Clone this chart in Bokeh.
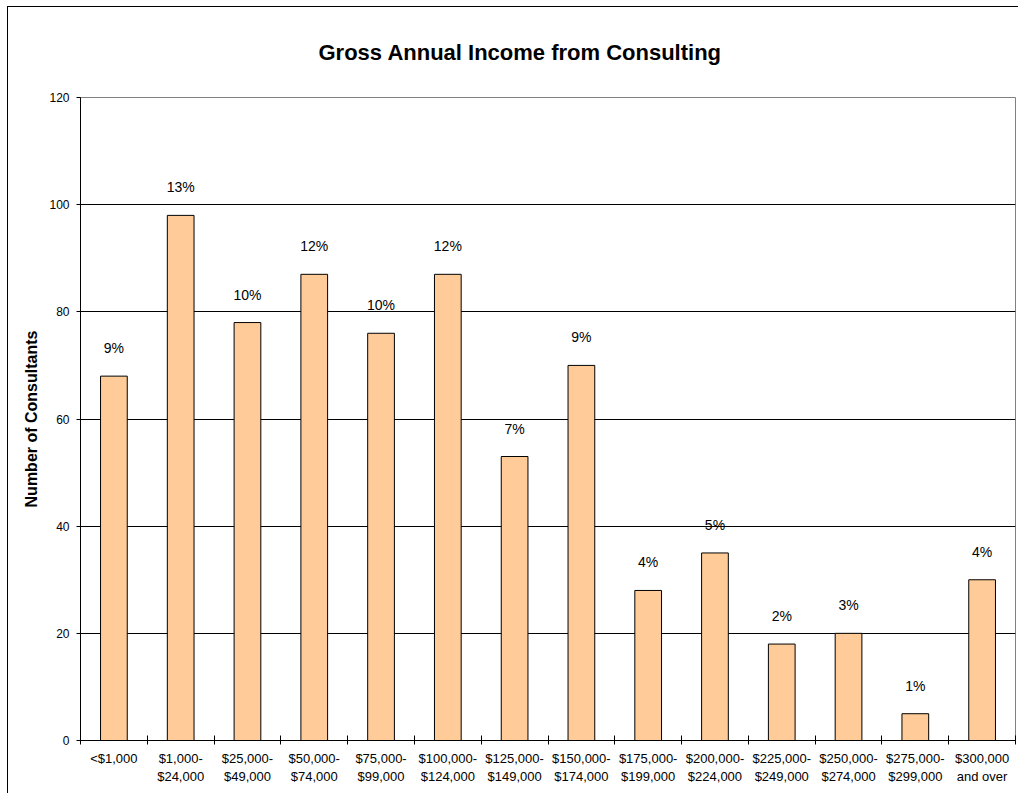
from bokeh.plotting import figure
from bokeh.models import Range1d, FixedTicker
from bokeh.core.properties import value
from bokeh.embed import file_html
from bokeh.resources import INLINE

categories = ["<$1,000", "$1,000-\n$24,000", "$25,000-\n$49,000", "$50,000-\n$74,000",
              "$75,000-\n$99,000", "$100,000-\n$124,000", "$125,000-\n$149,000",
              "$150,000-\n$174,000", "$175,000-\n$199,000", "$200,000-\n$224,000",
              "$225,000-\n$249,000", "$250,000-\n$274,000", "$275,000-\n$299,000",
              "$300,000\nand over"]
counts = [68, 98, 78, 87, 76, 87, 53, 70, 28, 35, 18, 20, 5, 30]
pct_labels = ["9%", "13%", "10%", "12%", "10%", "12%", "7%", "9%", "4%", "5%", "2%", "3%", "1%", "4%"]
y_ticks = [0, 20, 40, 60, 80, 100, 120]

n = len(categories)
centers = [i + 0.5 for i in range(n)]
bounds = list(range(n + 1))

FONT = "Liberation Sans"

p = figure(width=1011, height=787, output_backend="svg", toolbar_location=None,
           x_range=Range1d(0, n), y_range=Range1d(0, 120),
           min_border_left=72, min_border_right=4, min_border_top=90, min_border_bottom=54,
           title="Gross Annual Income from Consulting")
p.styles = {"margin-left": "7px", "margin-top": "6px",
            "border-left": "1px solid black", "border-top": "1px solid black"}

p.title.text_font = FONT
p.title.text_font_size = "22px"
p.title.text_font_style = "bold"
p.title.text_color = "black"
p.title.align = "left"
p.title.offset = 238
p.title.vertical_align = "top"
p.title.standoff = 61

p.outline_line_color = "#808080"
p.outline_line_width = 1
p.background_fill_color = "white"
p.border_fill_color = "white"

p.vbar(x=centers, top=counts, width=0.4, bottom=0,
       fill_color="#FFCC99", line_color="black", line_width=1)

p.text(x=centers, y=counts, text=pct_labels, y_offset=-28,
       text_align="center", text_baseline="middle",
       text_font=value(FONT), text_font_size="14px", text_color="black")

# x axis
p.xaxis.ticker = FixedTicker(ticks=centers, minor_ticks=bounds)
p.xaxis.major_label_overrides = {c: lab for c, lab in zip(centers, categories)}
p.xaxis.major_tick_in = 0
p.xaxis.major_tick_out = 0
p.xaxis.minor_tick_in = 5
p.xaxis.minor_tick_out = 4
p.xaxis.minor_tick_line_color = "black"
p.xaxis.axis_line_color = "black"
p.xaxis.major_label_text_font = FONT
p.xaxis.major_label_text_font_size = "13px"
p.xaxis.major_label_text_color = "black"
p.xaxis.major_label_standoff = 6
p.xgrid.grid_line_color = None

# y axis
p.yaxis.ticker = FixedTicker(ticks=y_ticks)
p.yaxis.major_tick_in = 0
p.yaxis.major_tick_out = 4
p.yaxis.minor_tick_line_color = None
p.yaxis.axis_line_color = "black"
p.yaxis.major_tick_line_color = "black"
p.yaxis.major_label_text_font = FONT
p.yaxis.major_label_text_font_size = "12px"
p.yaxis.major_label_text_color = "black"
p.yaxis.major_label_standoff = 7
p.yaxis.axis_label = "Number of Consultants"
p.yaxis.axis_label_text_font = FONT
p.yaxis.axis_label_text_font_size = "16px"
p.yaxis.axis_label_text_font_style = "bold"
p.yaxis.axis_label_text_color = "black"
p.yaxis.axis_label_standoff = 6
p.ygrid.grid_line_color = "black"
p.ygrid.grid_line_width = 1

open("out.html", "w").write(file_html(p, INLINE))
